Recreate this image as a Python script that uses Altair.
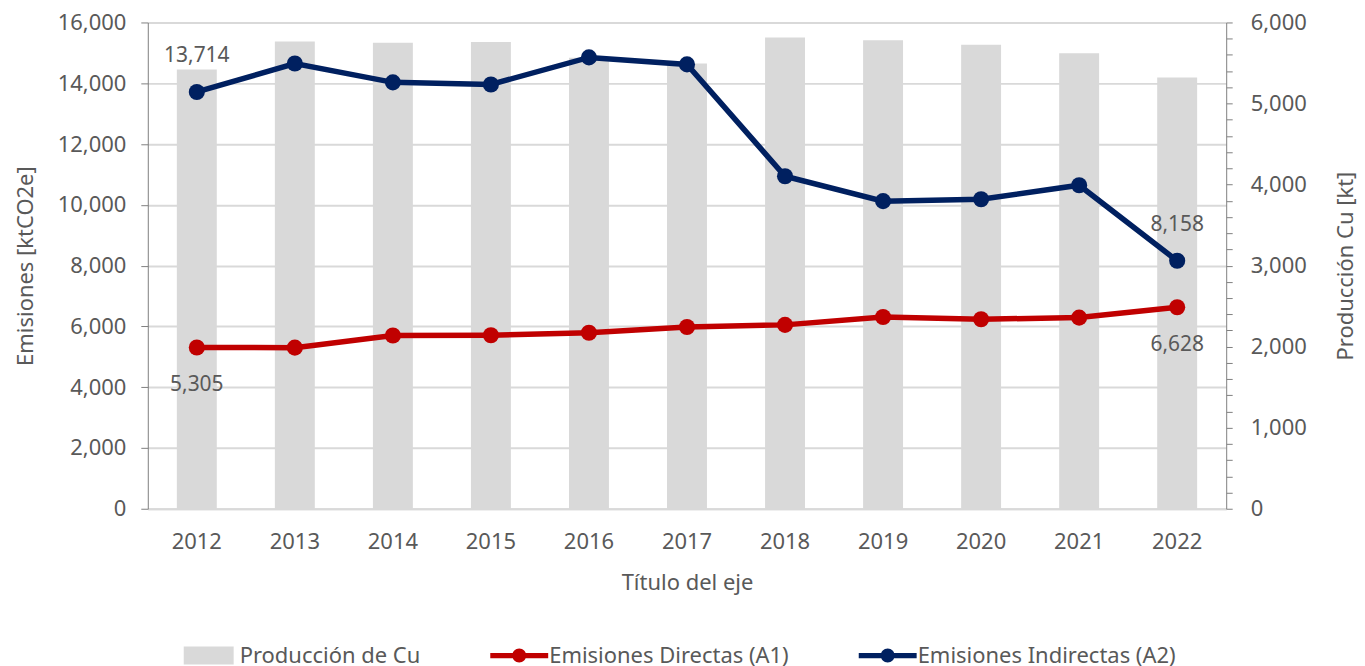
import altair as alt
import pandas as pd

years = ["2012", "2013", "2014", "2015", "2016", "2017", "2018", "2019", "2020", "2021", "2022"]
produccion = [5420, 5765, 5750, 5760, 5565, 5495, 5815, 5780, 5725, 5620, 5320]
directas = [5305, 5300, 5700, 5710, 5790, 5980, 6050, 6310, 6235, 6290, 6628]
indirectas = [13714, 14650, 14030, 13960, 14850, 14620, 10940, 10120, 10185, 10645, 8158]

S_PROD = "Producción de Cu"
S_DIR = "Emisiones Directas (A1)"
S_IND = "Emisiones Indirectas (A2)"

FONT = "Noto Sans"
GREY = "#595959"
FS = 22

bars_df = pd.DataFrame({"year": years, "prod": produccion, "serie": S_PROD})
lines_df = pd.concat([
    pd.DataFrame({"year": years, "val": directas, "serie": S_DIR}),
    pd.DataFrame({"year": years, "val": indirectas, "serie": S_IND}),
])
lines_df["label"] = lines_df["val"].map(lambda v: f"{v:,}")

x_enc = alt.X("year:N", title="Título del eje",
              scale=alt.Scale(paddingInner=0.59, paddingOuter=0.295),
              axis=alt.Axis(labelAngle=0, labelFontSize=FS, titleFontSize=FS, labelPadding=23,
                            titlePadding=20, ticks=False, domain=True, domainColor="#d9d9d9",
                            domainWidth=2, labelColor=GREY, titleColor=GREY,
                            labelFont=FONT, titleFont=FONT, titleFontWeight="normal"))

bars = alt.Chart(bars_df).mark_bar(size=40).encode(
    x=x_enc,
    y=alt.Y("prod:Q", title="Producción Cu [kt]",
            scale=alt.Scale(domain=[0, 6000], nice=False),
            axis=alt.Axis(orient="right", values=list(range(0, 6001, 200)),
                          labelExpr="datum.value % 1000 == 0 ? format(datum.value, ',') : ''",
                          grid=False, tickSize=6, tickColor="#7f7f7f", domainColor="#7f7f7f",
                          labelFontSize=FS, titleFontSize=FS, labelPadding=18, titlePadding=29,
                          titleAngle=270, titleBaseline="top",
                          labelColor=GREY, titleColor=GREY, labelFont=FONT, titleFont=FONT,
                          titleFontWeight="normal", labelOverlap=False)),
    fill=alt.Fill("serie:N", scale=alt.Scale(domain=[S_PROD], range=["#d9d9d9"]),
                  legend=alt.Legend(title=None, orient="none", legendX=36, legendY=609,
                                    symbolType="M-1,-0.36H1V0.36H-1Z", symbolSize=2500,
                                    symbolStrokeWidth=0,
                                    labelFontSize=FS, labelFont=FONT, labelColor=GREY,
                                    labelOffset=6, labelLimit=0)),
)

y_left = alt.Y("val:Q", title="Emisiones [ktCO2e]",
               scale=alt.Scale(domain=[0, 16000], nice=False),
               axis=alt.Axis(orient="left", values=list(range(0, 16001, 2000)),
                             labelExpr="format(datum.value, ',')",
                             grid=True, gridColor="#d9d9d9", gridWidth=2, tickSize=7,
                             tickColor="#7f7f7f", domainColor="#7f7f7f",
                             labelFontSize=FS, titleFontSize=FS, labelPadding=15, titlePadding=20,
                             labelColor=GREY, titleColor=GREY, labelFont=FONT, titleFont=FONT,
                             titleFontWeight="normal"))

line_legend = alt.Legend(title=None, orient="none", legendX=343, legendY=605,
                         direction="horizontal",
                         symbolType="M-1,-0.09H1V0.09H-1Z M0.24,0 A0.24,0.24 0 1 1 -0.24,0 A0.24,0.24 0 1 1 0.24,0 Z",
                         symbolSize=3364, symbolStrokeWidth=0,
                         labelFontSize=FS, labelFont=FONT, labelColor=GREY,
                         labelOffset=1, columnPadding=70, labelLimit=0)
color_enc = alt.Color("serie:N", scale=alt.Scale(domain=[S_DIR, S_IND], range=["#c00000", "#002060"]),
                      legend=line_legend)

base = alt.Chart(lines_df).encode(x=alt.X("year:N"), y=y_left, color=color_enc)
lines = base.mark_line(strokeWidth=5.5)
points = base.mark_point(filled=True, size=260, opacity=1)

lbl_ind = base.transform_filter(
    f"datum.serie == '{S_IND}' && (datum.year == '2012' || datum.year == '2022')"
).mark_text(dy=-36, fontSize=21, font=FONT, color=GREY).encode(text="label:N", color=alt.value(GREY))
lbl_dir = base.transform_filter(
    f"datum.serie == '{S_DIR}' && (datum.year == '2012' || datum.year == '2022')"
).mark_text(dy=38, fontSize=21, font=FONT, color=GREY).encode(text="label:N", color=alt.value(GREY))

emis = alt.layer(lines, points, lbl_ind, lbl_dir)

chart = alt.layer(bars, emis).resolve_scale(y="independent") \
    .properties(width=1080, height=487, padding={"left": 6, "top": 3, "right": 0, "bottom": 0}) \
    .configure_view(stroke=None)

chart.save("out.html", embed_options={"renderer": "svg", "actions": False})
